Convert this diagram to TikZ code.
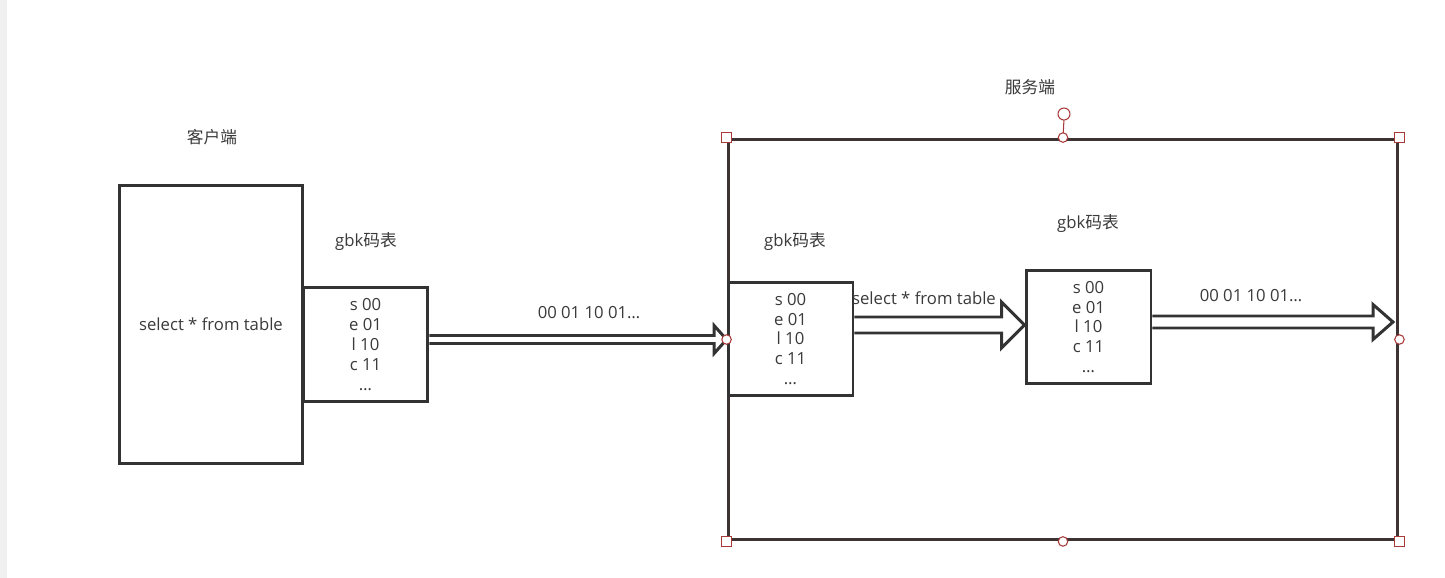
\documentclass[tikz,border=0pt]{standalone}
\usepackage{fontspec}
\setmainfont{Open Sans}
\newfontfamily\cjk{Noto Sans CJK SC}
\usepackage{xcolor}
\usetikzlibrary{positioning, calc}

\definecolor{inkgray}{HTML}{333333}
\definecolor{textgray}{HTML}{3A3A3A}
\definecolor{framebrown}{HTML}{3D3333}
\definecolor{handlered}{HTML}{A83A3A}
\definecolor{stripgray}{HTML}{F0F0F0}

\tikzset{
  box/.style={draw=inkgray, line width=1.7pt, minimum width=#1, inner sep=0pt},
  codetable/.style={draw=inkgray, line width=1.7pt, minimum width=2.5cm, minimum height=2.28cm,
    inner sep=0pt, align=center, font=\fontsize{9.5}{11.34}\selectfont, text=textgray},
  lbl/.style={font=\fontsize{9.5}{11.34}\selectfont, text=textgray},
  handlebox/.style={draw=handlered, fill=white, line width=0.6pt, minimum size=0.19cm, inner sep=0pt},
  handledot/.style={draw=handlered, fill=white, line width=0.6pt, circle, minimum size=0.19cm, inner sep=0pt},
  fatarrow/.style n args={3}{draw=inkgray, line width=1.7pt, line join=miter,
    to path={let \p1=(\tikztostart), \p2=(\tikztotarget) in
      (\x1,\y1+#1) -- (\x2-#3,\y1+#1) -- (\x2-#3,\y1+#2) -- (\x2,\y2)
      -- (\x2-#3,\y1-#2) -- (\x2-#3,\y1-#1) -- (\x1,\y1-#1)}}
}

\begin{document}
\begin{tikzpicture}[x=0.02cm, y=-0.02cm]

% page
\useasboundingbox (0,0) rectangle (1445,578);
\fill[white] (0,0) rectangle (1445,578);
\fill[stripgray] (0,0) rectangle (7,578);

% Client side
\node[lbl] (clientlbl) at (212,137) {\cjk 客户端};
\node[box=3.68cm, minimum height=5.58cm, lbl] (client) at (211,324.5) {select * from table};
\node[codetable] (tbl0) at (365.5,344.5) {s 00\\e 01\\l 10\\c 11\\…};
\node[lbl] (gbk0) at (366,241) {gbk{\cjk 码表}};

% Server side
\node[lbl] (srvlbl) at (1030,87) {\cjk 服务端};
\node[draw=framebrown, line width=1.7pt, minimum width=13.4cm, minimum height=8.02cm, inner sep=0pt] (srv) at (1063,339.5) {};
\node[codetable] (tbl1) at (790.5,339) {s 00\\e 01\\l 10\\c 11\\…};
\node[lbl] (gbk1) at (795,241) {gbk{\cjk 码表}};
\node[codetable] (tbl2) at (1088.5,327) {s 00\\e 01\\l 10\\c 11\\…};
\node[lbl] (gbk2) at (1088,223) {gbk{\cjk 码表}};
\coordinate (out) at (1393,322);

% Arrows
\draw[fatarrow={0.08cm}{0.28cm}{0.25cm}] (tbl0.east |- srv.west) to (srv.west);
\draw[fatarrow={0.16cm}{0.46cm}{0.46cm}] (tbl1.east |- 0,325) to (tbl2.west |- 0,325);
\draw[fatarrow={0.12cm}{0.35cm}{0.40cm}] (tbl2.east |- out) to (out);

\node[lbl] (bits0) at (589,313) {00 01 10 01…};
\node[lbl] (sql1) at (924,298) {select * from table};
\node[lbl] (bits1) at (1251,296) {00 01 10 01…};

% selection handles
\draw[handlered, line width=0.6pt] (srv.north) -- (1064,119);
\node[handledot, minimum size=0.24cm] (rot) at (1064,114) {};
\foreach \c in {north west, north east, south west, south east}
  \node[handlebox] at (srv.\c) {};
\foreach \c in {north, south, west, east}
  \node[handledot] at (srv.\c) {};

\end{tikzpicture}
\end{document}
